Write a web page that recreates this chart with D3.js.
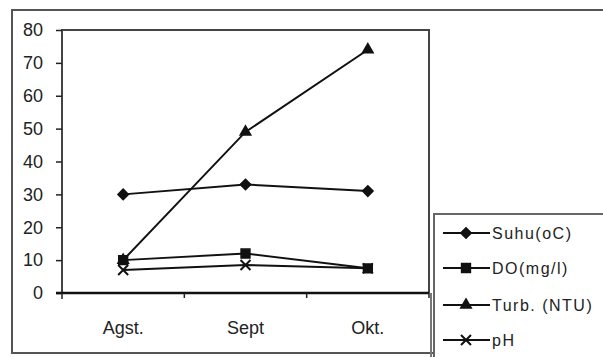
<!DOCTYPE html>
<html><head><meta charset="utf-8">
<script src="https://cdn.jsdelivr.net/npm/d3@7/dist/d3.min.js"></script>
<style>body{margin:0;background:#fff}svg{display:block}</style>
</head><body>
<svg id="c" width="603" height="357"></svg>
<script>
const categories = ["Agst.", "Sept", "Okt."];
const suhu = [30, 33, 31];
const doVals = [10, 12, 7.5];
const turb = [10, 49, 74];
const ph = [7, 8.5, 7.5];
const yTicks = [0, 10, 20, 30, 40, 50, 60, 70, 80];
const seriesNames = ["Suhu(oC)", "DO(mg/l)", "Turb. (NTU)", "pH"];
const seriesSymbols = ["diamond", "square", "triangle", "x"];
const seriesData = [suhu, doVals, turb, ph];

const svg = d3.select("#c");
const font = "Liberation Sans, Arial, sans-serif";
const L = 62, R = 429, T = 30, B = 293;

// outer frame
svg.append("rect").attr("x", 12).attr("y", 10).attr("width", 620).attr("height", 343)
  .attr("fill", "none").attr("stroke", "#555").attr("stroke-width", 2);

const x = d3.scaleBand().domain(categories).range([L, R]);
const y = d3.scaleLinear().domain([0, 80]).range([B, T]);

// plot border
svg.append("path").attr("d", `M${L},${B}V${T}H${R}V${B}`).attr("fill", "none")
  .attr("stroke", "#444").attr("stroke-width", 2);
svg.append("line").attr("x1", 431).attr("x2", 431).attr("y1", B).attr("y2", 357)
  .attr("stroke", "#777").attr("stroke-width", 2);

// y axis
const ya = svg.append("g").attr("transform", `translate(${L},0)`)
  .call(d3.axisLeft(y).tickValues(yTicks).tickSize(6).tickPadding(13));
ya.select(".domain").remove();
ya.selectAll("line").attr("stroke", "#222").attr("stroke-width", 1.5);
ya.selectAll("text").attr("font-family", font).attr("font-size", 18).attr("fill", "#222");

// x axis
const xa = svg.append("g").attr("transform", `translate(0,${B})`)
  .call(d3.axisBottom(x).tickSize(0).tickPadding(28));
xa.select(".domain").remove();
xa.selectAll("text").attr("font-family", font).attr("font-size", 18).attr("fill", "#222");
svg.append("line").attr("x1", L - 6).attr("x2", R).attr("y1", B).attr("y2", B)
  .attr("stroke", "#111").attr("stroke-width", 2.5);
const bnd = categories.map(c => x(c)).concat([R]);
svg.selectAll(".xt").data(bnd.slice(1)).enter().append("line")
  .attr("x1", d => d).attr("x2", d => d).attr("y1", B).attr("y2", B + 5)
  .attr("stroke", "#222").attr("stroke-width", 1.5);
svg.append("line").attr("x1", L).attr("x2", L).attr("y1", B).attr("y2", B + 6)
  .attr("stroke", "#222").attr("stroke-width", 1.5);

const symMap = {
  diamond: d3.symbol().type(d3.symbolDiamond2).size(70),
  square: d3.symbol().type(d3.symbolSquare2).size(100),
  triangle: d3.symbol().type(d3.symbolTriangle2).size(80)
};
function drawMarker(g, type, cx, cy) {
  if (type === "x") {
    g.append("path").attr("d", `M${cx-5},${cy-5}L${cx+5},${cy+5}M${cx+5},${cy-5}L${cx-5},${cy+5}`)
      .attr("stroke", "#111").attr("stroke-width", 2).attr("fill", "none");
  } else {
    g.append("path").attr("d", symMap[type]()).attr("transform", `translate(${cx},${cy})`)
      .attr("fill", "#111").attr("stroke", "#111").attr("stroke-width", 1.5);
  }
}

const line = d3.line().x((d, i) => x(categories[i]) + x.bandwidth() / 2).y(d => y(d));
seriesData.forEach((data, si) => {
  const g = svg.append("g");
  g.append("path").datum(data).attr("d", line).attr("fill", "none")
    .attr("stroke", "#111").attr("stroke-width", 2);
  data.forEach((v, i) => drawMarker(g, seriesSymbols[si], x(categories[i]) + x.bandwidth() / 2, y(v)));
});

// legend
svg.append("rect").attr("x", 434).attr("y", 214).attr("width", 200).attr("height", 160)
  .attr("fill", "#fff").attr("stroke", "#666").attr("stroke-width", 2);
const ly = [233, 268, 305, 340];
seriesNames.forEach((n, i) => {
  const g = svg.append("g");
  g.append("line").attr("x1", 443).attr("x2", 490).attr("y1", ly[i]).attr("y2", ly[i])
    .attr("stroke", "#111").attr("stroke-width", 2);
  drawMarker(g, seriesSymbols[i], 466, ly[i]);
  g.append("text").attr("x", 492).attr("y", ly[i]).attr("dy", "0.35em")
    .attr("font-family", font).attr("font-size", 16).attr("letter-spacing", 1.5)
    .attr("fill", "#222").text(n);
});
</script>
</body></html>
